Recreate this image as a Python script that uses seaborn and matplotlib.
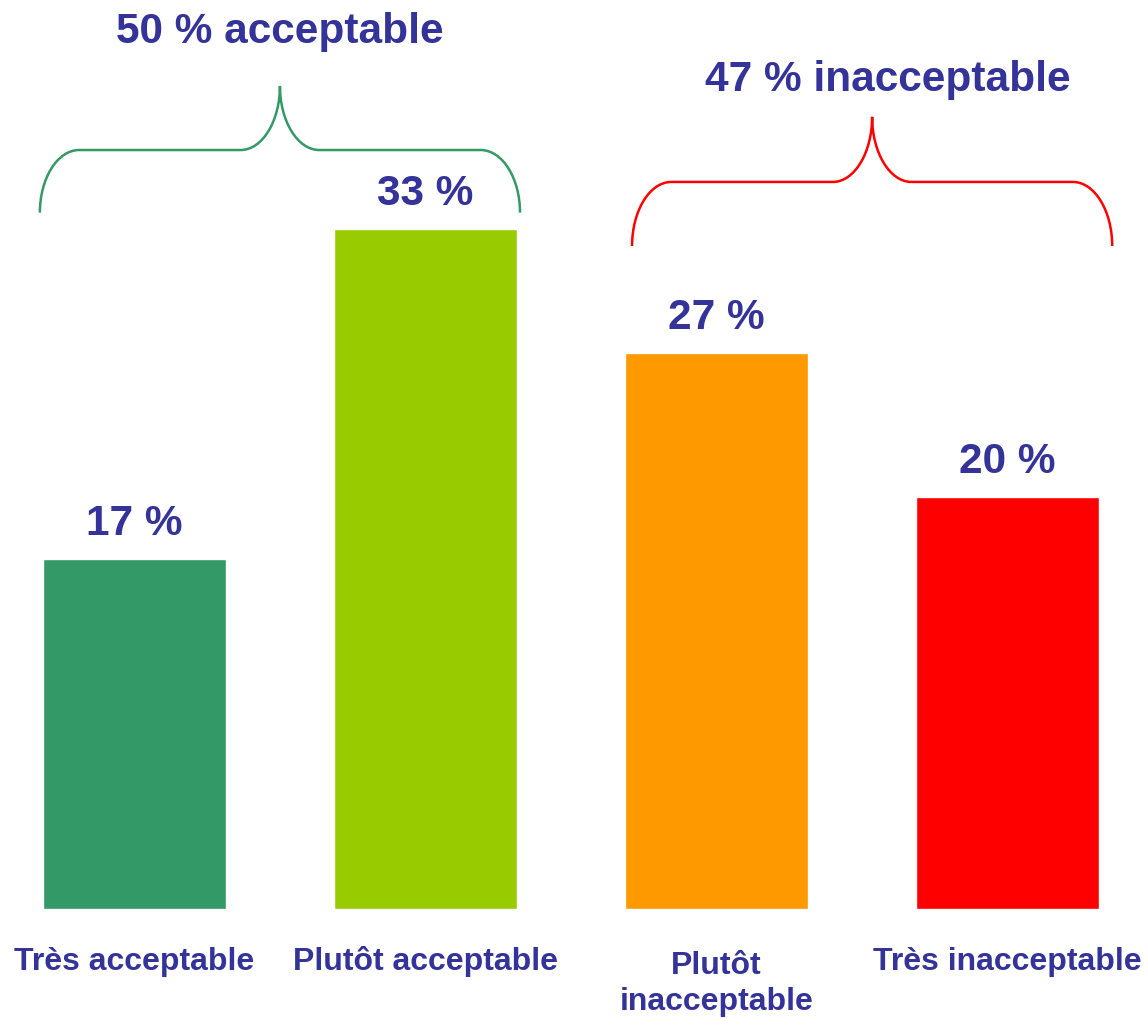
import matplotlib
matplotlib.use("Agg")
import matplotlib.pyplot as plt
from matplotlib.path import Path
from matplotlib.patches import PathPatch
import seaborn as sns

# data
categories = ["Très acceptable", "Plutôt acceptable", "Plutôt\ninacceptable", "Très inacceptable"]
values = [17, 33, 27, 20]
bar_colors = ["#339966", "#99CC00", "#FF9900", "#FF0000"]
group_titles = ["50 % acceptable", "47 % inacceptable"]

TEXT = "#333399"

sns.set_style("white")
plt.rcParams["font.family"] = ["Liberation Sans", "DejaVu Sans"]
plt.rcParams["font.weight"] = "bold"

fig = plt.figure(figsize=(11.48, 10.2), dpi=100)
ax = fig.add_axes([0, 0, 1, 1])

sns.barplot(x=categories, y=values, hue=categories, palette=bar_colors,
            legend=False, width=0.63, saturation=1, ax=ax)

ax.set_xlim(-0.462, 3.483)
ax.set_ylim(-5.34, 44.17)
ax.axis("off")

# value labels above bars
for i, v in enumerate(values):
    ax.text(i, v + 1.2, f"{v} %", ha="center", va="baseline",
            fontsize=30.5, fontweight="bold", color=TEXT)

# category labels under bars (first line baseline fixed, extra lines go down)
for i, c in enumerate(categories):
    n = c.count("\n")
    ax.text(i, -2.9 - n * 1.94, c, ha="center", va="baseline", fontsize=23,
            fontweight="bold", color=TEXT, linespacing=1.25)


def brace(ax, x0, x1, yb, ys, yt, color, d=0.135, k=0.55):
    xm = (x0 + x1) / 2
    verts = [
        (x0, yb),
        (x0, yb + k * (ys - yb)), (x0 + d * (1 - k), ys), (x0 + d, ys),
        (xm - d, ys),
        (xm - d * (1 - k), ys), (xm, yt - k * (yt - ys)), (xm, yt),
        (xm, yt - k * (yt - ys)), (xm + d * (1 - k), ys), (xm + d, ys),
        (x1 - d, ys),
        (x1 - d * (1 - k), ys), (x1, yb + k * (ys - yb)), (x1, yb),
    ]
    codes = [Path.MOVETO,
             Path.CURVE4, Path.CURVE4, Path.CURVE4,
             Path.LINETO,
             Path.CURVE4, Path.CURVE4, Path.CURVE4,
             Path.CURVE4, Path.CURVE4, Path.CURVE4,
             Path.LINETO,
             Path.CURVE4, Path.CURVE4, Path.CURVE4]
    ax.add_patch(PathPatch(Path(verts, codes), fill=False, edgecolor=color,
                           linewidth=1.8, capstyle="butt"))


brace(ax, -0.325, 1.325, 33.8, 36.84, 39.95, bar_colors[0])
brace(ax, 1.71, 3.36, 32.18, 35.29, 38.45, bar_colors[3])

ax.text(0.5, 42.09, group_titles[0], ha="center", va="baseline",
        fontsize=30.5, fontweight="bold", color=TEXT)
ax.text(2.589, 39.76, group_titles[1], ha="center", va="baseline",
        fontsize=30.5, fontweight="bold", color=TEXT)

fig.savefig("out.png", dpi=100, facecolor="white")
plt.close(fig)
